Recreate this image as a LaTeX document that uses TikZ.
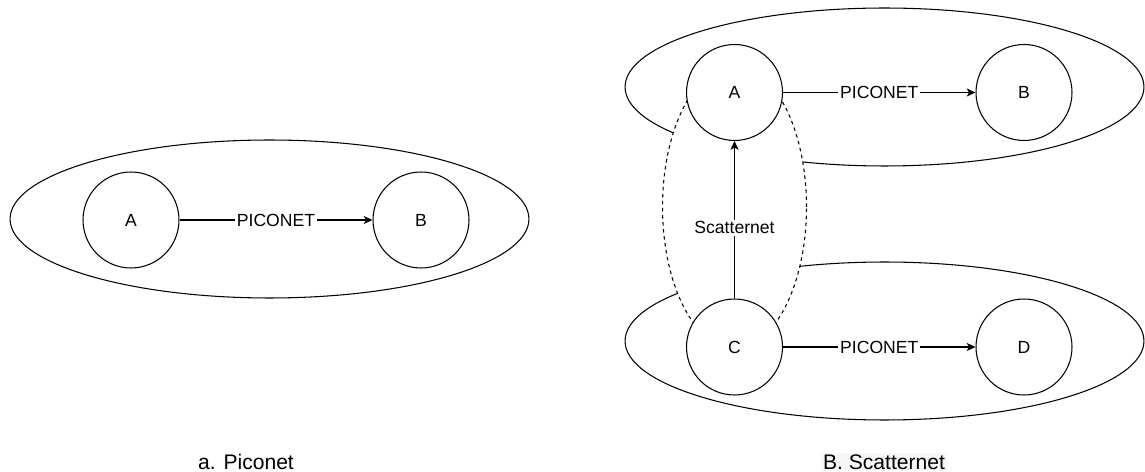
\documentclass[tikz,border=0pt]{standalone}
\usepackage{fontspec}
\setmainfont{Liberation Sans}
\usetikzlibrary{arrows.meta, positioning, shapes.geometric}

\begin{document}
\begin{tikzpicture}[x=0.02cm, y=-0.02cm, line width=0.6pt,
   font=\fontsize{10}{12}\selectfont,
   dev/.style={circle, draw, fill=white, minimum size=1.92cm, inner sep=0pt},
   pico/.style={ellipse, draw, minimum width=10.38cm, minimum height=3.16cm, inner sep=0pt},
   scat/.style={ellipse, draw, fill=white, dash pattern=on 2pt off 2pt,
                minimum width=2.88cm, minimum height=5.64cm, inner sep=0pt},
   link/.style={-{Stealth[length=5pt, width=4.6pt, inset=1.3pt]}},
   lbl/.style={fill=white, inner sep=1pt},
   figcaption/.style={font=\fontsize{12}{14}\selectfont, inner sep=1pt}]
  \useasboundingbox (0,0) rectangle (1145,472);
  % a. piconet
  \node[pico] (p1) at (269.5,219) {};
  \node[dev] (a1) at (131,220) {A};  \node[dev] (b1) at (421,220) {B};
  % B. scatternet
  \node[pico] (p2) at (884.5,87) {};
  \node[pico] (p3) at (884.5,341) {};
  \node[scat] (sc) at (734.5,207) {};
  \node[dev] (a2) at (734.5,92.5) {A};  \node[dev] (b2) at (1024,92.5) {B};
  \node[dev] (c2) at (734.5,347) {C};   \node[dev] (d2) at (1024,347) {D};
  \foreach \s/\t in {a1/b1, a2/b2, c2/d2}
     \draw[link] (\s) -- node[lbl] {PICONET} (\t);
  \draw[link] (c2) -- node[lbl, pos=0.45] {Scatternet} (a2);
  % captions
  \node[figcaption] (cap1) at (246,462) {a. Piconet};
  \node[figcaption, fill=black!3] (cap2) at (884,462) {B. Scatternet};
\end{tikzpicture}
\end{document}
